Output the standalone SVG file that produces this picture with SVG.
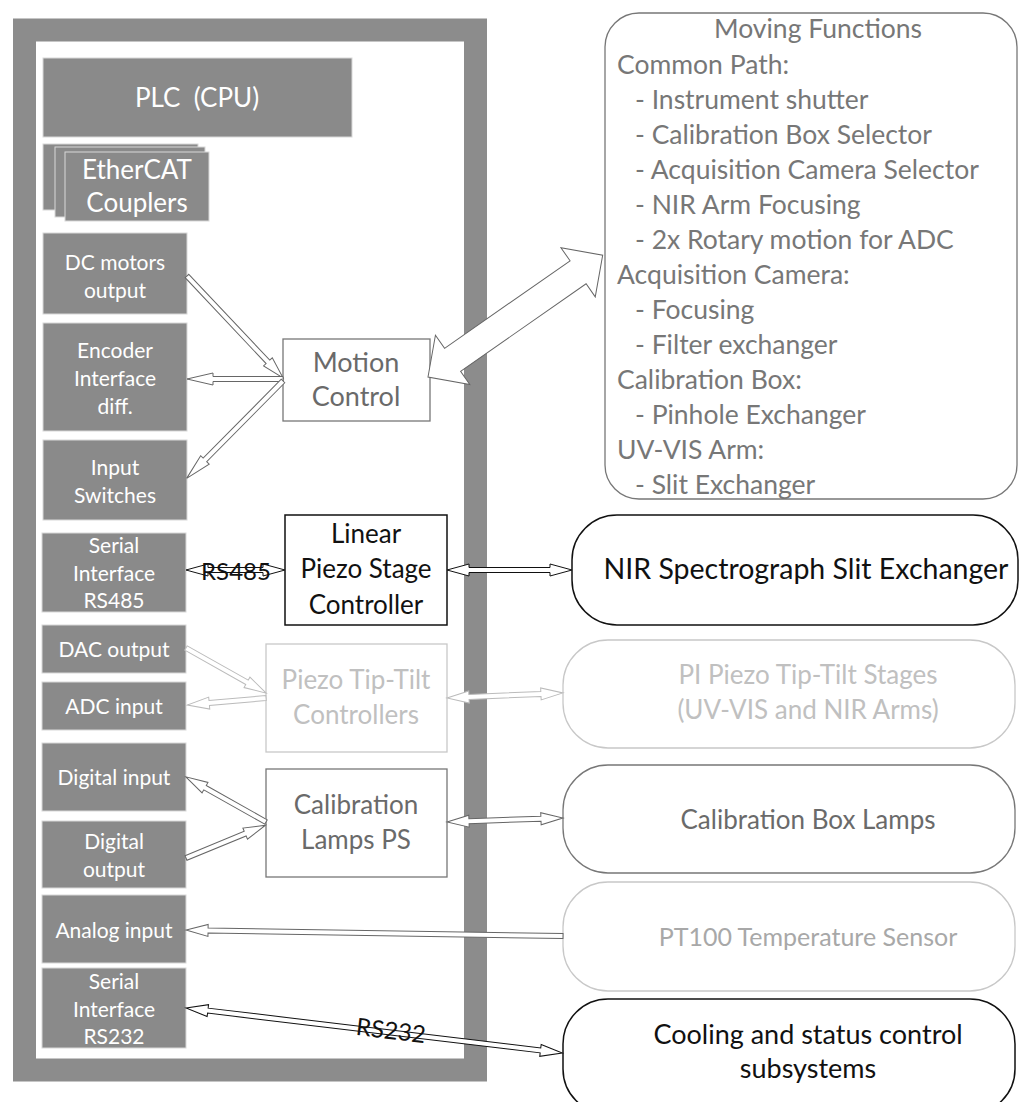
<svg xmlns="http://www.w3.org/2000/svg" width="1020" height="1102" viewBox="0 0 1020 1102">
<style>
text{font-family:Lato,"Open Sans","Liberation Sans",sans-serif}
.gb{fill:#8a8a8a;stroke:#d8d8d8;stroke-width:1}
.wt{fill:#fff;font-size:21px;text-anchor:middle}
.big{fill:#fff;font-size:26px;text-anchor:middle}
.mid{fill:none;stroke:#777;stroke-width:1.3}
.blk{fill:none;stroke:#111;stroke-width:1.5}
.lite{fill:none;stroke:#c8c8c8;stroke-width:1.3}
.tm{fill:#6a6a6a;text-anchor:middle}
.tb{fill:#111;text-anchor:middle}
.tl{fill:#c0c0c0;text-anchor:middle}
.mf{fill:#777;font-size:26.5px}
.c-mid{fill:#fff;stroke:#666;stroke-width:1}
.c-blk{fill:#fff;stroke:#111;stroke-width:1}
.c-lite{fill:#fff;stroke:#bbb;stroke-width:1}
</style>
<rect x="0" y="0" width="1020" height="1102" fill="#fff"/>
<g id="plc-frame">
<rect x="24.5" y="30" width="451" height="1040" fill="#fff" stroke="#8c8c8c" stroke-width="23"/>
</g>
<g id="plc-cpu">
<rect class="gb" x="43" y="58" width="309" height="79"/>
<text class="big" x="197" y="107" xml:space="preserve">PLC  (CPU)</text>
</g>
<g id="ethercat">
<rect class="gb" x="43" y="144" width="155" height="66"/>
<rect class="gb" x="55" y="147" width="150" height="70"/>
<rect class="gb" x="65" y="152" width="144" height="69"/>
<text class="big" x="137" y="179">EtherCAT</text>
<text class="big" x="137" y="212">Couplers</text>
</g>
<g id="dc-motors">
<rect class="gb" x="43" y="233" width="144" height="81"/>
<text class="wt" x="115" y="270">DC motors</text>
<text class="wt" x="115" y="298">output</text>
</g>
<g id="encoder">
<rect class="gb" x="43" y="323" width="144" height="108"/>
<text class="wt" x="115" y="358">Encoder</text>
<text class="wt" x="115" y="386">Interface</text>
<text class="wt" x="115" y="414">diff.</text>
</g>
<g id="input-switches">
<rect class="gb" x="43" y="440" width="144" height="80"/>
<text class="wt" x="115" y="475">Input</text>
<text class="wt" x="115" y="503">Switches</text>
</g>
<g id="serial-rs485">
<rect class="gb" x="42" y="533" width="144" height="79"/>
<text class="wt" x="114" y="553">Serial</text>
<text class="wt" x="114" y="581">Interface</text>
<text class="wt" x="114" y="608">RS485</text>
</g>
<g id="dac-output">
<rect class="gb" x="42" y="625" width="144" height="48"/>
<text class="wt" x="114" y="657">DAC output</text>
</g>
<g id="adc-input">
<rect class="gb" x="42" y="682" width="144" height="48"/>
<text class="wt" x="114" y="714">ADC input</text>
</g>
<g id="digital-input">
<rect class="gb" x="42" y="743" width="144" height="68"/>
<text class="wt" x="114" y="785">Digital input</text>
</g>
<g id="digital-output">
<rect class="gb" x="42" y="821" width="144" height="67"/>
<text class="wt" x="114" y="849">Digital</text>
<text class="wt" x="114" y="877">output</text>
</g>
<g id="analog-input">
<rect class="gb" x="42" y="895" width="144" height="68"/>
<text class="wt" x="114" y="938">Analog input</text>
</g>
<g id="serial-rs232">
<rect class="gb" x="42" y="968" width="144" height="80"/>
<text class="wt" x="114" y="989">Serial</text>
<text class="wt" x="114" y="1017">Interface</text>
<text class="wt" x="114" y="1044">RS232</text>
</g>
<g id="motion-control">
<rect class="mid" x="283" y="339" width="147" height="82"/>
<text class="tm" x="356" y="372" font-size="27">Motion</text>
<text class="tm" x="356" y="406" font-size="27">Control</text>
</g>
<g id="linear-piezo">
<rect class="blk" x="285" y="515" width="162" height="110"/>
<text class="tb" x="366" y="543" font-size="26">Linear</text>
<text class="tb" x="366" y="578" font-size="26">Piezo Stage</text>
<text class="tb" x="366" y="614" font-size="26">Controller</text>
</g>
<g id="piezo-tt-controllers">
<rect class="lite" x="266" y="644" width="181" height="108"/>
<text class="tl" x="356" y="689" font-size="26">Piezo Tip-Tilt</text>
<text class="tl" x="356" y="724" font-size="26">Controllers</text>
</g>
<g id="calibration-lamps-ps">
<rect class="mid" x="266" y="769" width="181" height="108"/>
<text class="tm" x="356" y="814" font-size="26">Calibration</text>
<text class="tm" x="356" y="849" font-size="26">Lamps PS</text>
</g>
<g id="moving-functions">
<rect class="mid" x="605" y="13" width="412" height="486" rx="34"/>
<text class="mf" x="818" y="38" text-anchor="middle">Moving Functions</text>
<text class="mf" x="617" y="74">Common Path:</text>
<text class="mf" x="635" y="109">- Instrument shutter</text>
<text class="mf" x="635" y="144">- Calibration Box Selector</text>
<text class="mf" x="635" y="179">- Acquisition Camera Selector</text>
<text class="mf" x="635" y="214">- NIR Arm Focusing</text>
<text class="mf" x="635" y="249">- 2x Rotary motion for ADC</text>
<text class="mf" x="617" y="284">Acquisition Camera:</text>
<text class="mf" x="635" y="319">- Focusing</text>
<text class="mf" x="635" y="354">- Filter exchanger</text>
<text class="mf" x="617" y="389">Calibration Box:</text>
<text class="mf" x="635" y="424">- Pinhole Exchanger</text>
<text class="mf" x="617" y="459">UV-VIS Arm:</text>
<text class="mf" x="635" y="494">- Slit Exchanger</text>
</g>
<g id="nir-slit-exchanger">
<rect class="blk" x="572" y="515" width="446" height="110" rx="45"/>
<text class="tb" x="806" y="579" font-size="28.5">NIR Spectrograph Slit Exchanger</text>
</g>
<g id="pi-piezo-stages">
<rect class="lite" x="563" y="640" width="452" height="108" rx="45"/>
<text class="tl" x="808" y="684" font-size="26">PI Piezo Tip-Tilt Stages</text>
<text class="tl" x="808" y="719" font-size="26">(UV-VIS and NIR Arms)</text>
</g>
<g id="calibration-box-lamps">
<rect class="mid" x="563" y="765" width="452" height="108" rx="45"/>
<text class="tm" x="808" y="829" font-size="26">Calibration Box Lamps</text>
</g>
<g id="pt100">
<rect class="lite" x="563" y="882" width="452" height="109" rx="45"/>
<text fill="#a8a8a8" text-anchor="middle" x="808" y="946" font-size="25">PT100 Temperature Sensor</text>
</g>
<g id="cooling">
<rect class="blk" x="563" y="999" width="452" height="115" rx="45"/>
<text class="tb" x="808" y="1044" font-size="27">Cooling and status control</text>
<text class="tb" x="808" y="1078" font-size="27">subsystems</text>
</g>
<g id="connectors">
<polygon class="c-mid" transform="translate(187,276) rotate(46.7)" points="0,-2.5 118,-2.5 118,-6 140,0 118,6 118,2.5 0,2.5"/>
<polygon class="c-mid" transform="translate(283,379) rotate(180)" points="0,-2.5 70,-2.5 70,-6 96,0 70,6 70,2.5 0,2.5"/>
<polygon class="c-mid" transform="translate(283,381) rotate(134.7)" points="0,-2.5 111,-2.5 111,-6 137,0 111,6 111,2.5 0,2.5"/>
<polygon class="c-mid" transform="translate(428,377) rotate(-34.9)" points="0,0 30,-30 30,-14 183,-14 183,-30 213,0 183,30 183,14 30,14 30,30"/>
<polygon class="c-blk" transform="translate(186,570)" points="0,0 22,-6 22,-2.5 77,-2.5 77,-6 99,0 77,6 77,2.5 22,2.5 22,6"/>
<text class="tb" x="236" y="580" font-size="24">RS485</text>
<polygon class="c-blk" transform="translate(447,570)" points="0,0 22,-6 22,-2.5 103,-2.5 103,-6 125,0 103,6 103,2.5 22,2.5 22,6"/>
<polygon class="c-lite" transform="translate(186,648) rotate(29.4)" points="0,-2.5 70,-2.5 70,-6 92,0 70,6 70,2.5 0,2.5"/>
<polygon class="c-lite" transform="translate(266,698) rotate(174.9)" points="0,-2.5 57,-2.5 57,-6 79,0 57,6 57,2.5 0,2.5"/>
<polygon class="c-lite" transform="translate(447,698) rotate(-2.5)" points="0,0 22,-6 22,-2.5 94,-2.5 94,-6 116,0 94,6 94,2.5 22,2.5 22,6"/>
<polygon class="c-mid" transform="translate(266,822) rotate(209.4)" points="0,-2.5 70,-2.5 70,-6 92,0 70,6 70,2.5 0,2.5"/>
<polygon class="c-mid" transform="translate(186,858) rotate(-22.4)" points="0,-2.5 64,-2.5 64,-6 86,0 64,6 64,2.5 0,2.5"/>
<polygon class="c-mid" transform="translate(447,822) rotate(-2)" points="0,0 22,-6 22,-2.5 94,-2.5 94,-6 116,0 94,6 94,2.5 22,2.5 22,6"/>
<polygon class="c-mid" transform="translate(563,936) rotate(180.9)" points="0,-2.5 355,-2.5 355,-6 377,0 355,6 355,2.5 0,2.5"/>
<polygon class="c-blk" transform="translate(186,1008) rotate(6.82)" points="0,0 22,-6 22,-2.5 357,-2.5 357,-6 379,0 357,6 357,2.5 22,2.5 22,6"/>
<text class="tb" transform="translate(390,1039) rotate(6.8)" x="0" y="0" font-size="24">RS232</text>
</g>
</svg>
